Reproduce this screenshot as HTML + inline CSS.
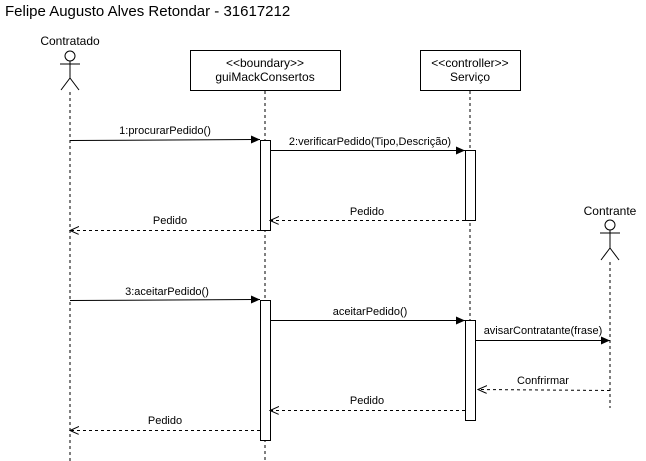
<!DOCTYPE html>
<html><head><style>body{margin:0;background:#fff}svg{display:block}</style></head><body>
<svg width="646" height="461" xmlns="http://www.w3.org/2000/svg" font-family="Liberation Sans, sans-serif" font-size="11">
<defs>
<marker id="f" markerWidth="10" markerHeight="10" refX="9" refY="4" orient="auto" markerUnits="userSpaceOnUse"><path d="M0,0 L9,4 L0,8 Z" fill="#000"/></marker>
<marker id="o" markerWidth="10" markerHeight="10" refX="9" refY="4" orient="auto" markerUnits="userSpaceOnUse"><path d="M0,0 L9,4 L0,8" fill="none" stroke="#000"/></marker>
</defs>
<text x="5" y="16" font-size="15">Felipe Augusto Alves Retondar - 31617212</text>
<!-- Contratado -->
<text x="70" y="45" text-anchor="middle" font-size="12">Contratado</text>
<g stroke="#000" fill="none"><circle cx="70" cy="56" r="5"/><line x1="70" y1="61" x2="70" y2="78"/><line x1="60" y1="64" x2="80" y2="64"/><line x1="70" y1="78" x2="61" y2="90"/><line x1="70" y1="78" x2="79" y2="90"/></g>
<line x1="70" y1="92" x2="70" y2="461" stroke="#000" stroke-dasharray="3,3"/>
<!-- boundary -->
<rect x="190.5" y="50.5" width="150" height="40" fill="#fff" stroke="#000"/>
<text x="265" y="67" text-anchor="middle" font-size="12">&lt;&lt;boundary&gt;&gt;</text>
<text x="265" y="81" text-anchor="middle" font-size="12">guiMackConsertos</text>
<line x1="265" y1="91" x2="265" y2="461" stroke="#000" stroke-dasharray="3,3"/>
<!-- controller -->
<rect x="420.5" y="50.5" width="100" height="40" fill="#fff" stroke="#000"/>
<text x="470" y="67" text-anchor="middle" font-size="12">&lt;&lt;controller&gt;&gt;</text>
<text x="470" y="81" text-anchor="middle" font-size="12">Serviço</text>
<line x1="470" y1="91" x2="470" y2="421" stroke="#000" stroke-dasharray="3,3"/>
<!-- Contrante -->
<text x="610" y="215" text-anchor="middle" font-size="12">Contrante</text>
<g stroke="#000" fill="none"><circle cx="610" cy="225" r="5"/><line x1="610" y1="230" x2="610" y2="248"/><line x1="600" y1="233" x2="620" y2="233"/><line x1="610" y1="248" x2="601" y2="260"/><line x1="610" y1="248" x2="619" y2="260"/></g>
<line x1="610" y1="262" x2="610" y2="408" stroke="#000" stroke-dasharray="3,3"/>
<!-- activations -->
<g fill="#fff" stroke="#000">
<rect x="260.5" y="140.5" width="10" height="90"/>
<rect x="260.5" y="300.5" width="10" height="140"/>
<rect x="465.5" y="150.5" width="10" height="70"/>
<rect x="465.5" y="320.5" width="10" height="100"/>
</g>
<!-- messages -->
<g stroke="#000" fill="none">
<line x1="70" y1="140.5" x2="260" y2="139.5" marker-end="url(#f)"/>
<line x1="270" y1="150.5" x2="465" y2="150.5" marker-end="url(#f)"/>
<line x1="465" y1="220.5" x2="270" y2="220.5" stroke-dasharray="3,3" marker-end="url(#o)"/>
<line x1="260" y1="230.5" x2="70" y2="230.5" stroke-dasharray="3,3" marker-end="url(#o)"/>
<line x1="70" y1="300.5" x2="260" y2="299.5" marker-end="url(#f)"/>
<line x1="270" y1="320.5" x2="465" y2="320.5" marker-end="url(#f)"/>
<line x1="475" y1="340.5" x2="610" y2="340.5" marker-end="url(#f)"/>
<line x1="610" y1="390.5" x2="478" y2="389.5" stroke-dasharray="3,3" marker-end="url(#o)"/>
<line x1="465" y1="410.5" x2="270" y2="410.5" stroke-dasharray="3,3" marker-end="url(#o)"/>
<line x1="260" y1="430.5" x2="70" y2="430.5" stroke-dasharray="3,3" marker-end="url(#o)"/>
</g>
<g text-anchor="middle">
<text x="165" y="134">1:procurarPedido()</text>
<text x="370" y="145">2:verificarPedido(Tipo,Descrição)</text>
<text x="367" y="215">Pedido</text>
<text x="170" y="224">Pedido</text>
<text x="167" y="295">3:aceitarPedido()</text>
<text x="370" y="315">aceitarPedido()</text>
<text x="543" y="334">avisarContratante(frase)</text>
<text x="543" y="384">Confrirmar</text>
<text x="367" y="404">Pedido</text>
<text x="165" y="424">Pedido</text>
</g>
</svg>
</body></html>
